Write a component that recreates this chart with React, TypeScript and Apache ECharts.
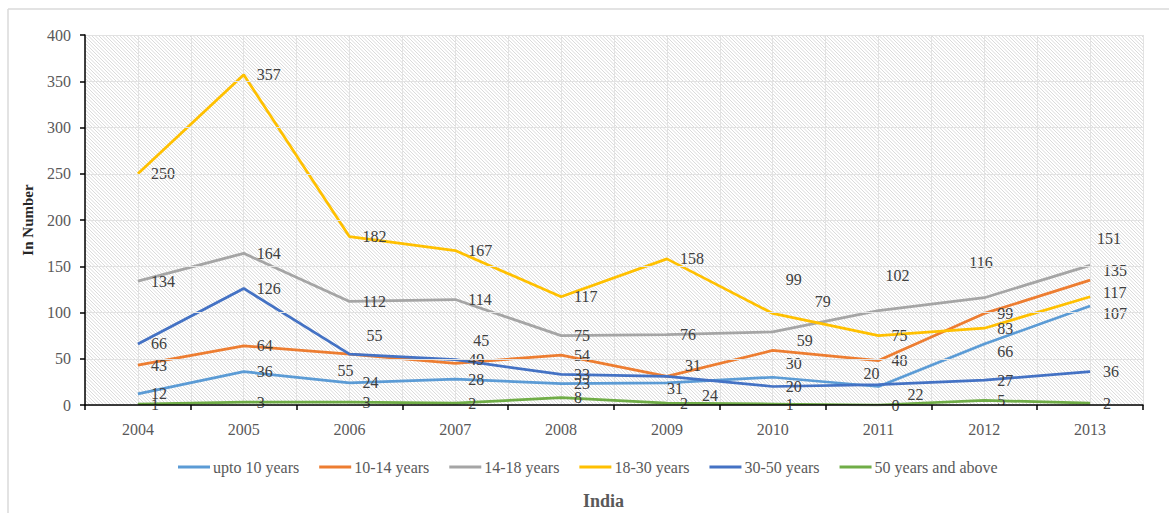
import React, { useEffect, useRef } from "react";
import * as echarts from "echarts";

// Categories and series values
const years = ["2004", "2005", "2006", "2007", "2008", "2009", "2010", "2011", "2012", "2013"];
const upTo10 = [12, 36, 24, 28, 23, 24, 30, 20, 66, 107];
const age10to14 = [43, 64, 55, 45, 54, 31, 59, 48, 99, 135];
const age14to18 = [134, 164, 112, 114, 75, 76, 79, 102, 116, 151];
const age18to30 = [250, 357, 182, 167, 117, 158, 99, 75, 83, 117];
const age30to50 = [66, 126, 55, 49, 33, 31, 20, 22, 27, 36];
const age50plus = [1, 3, 3, 2, 8, 2, 1, 0, 5, 2];

const seriesNames = [
  "upto 10 years",
  "10-14 years",
  "14-18 years",
  "18-30 years",
  "30-50 years",
  "50 years and above",
];
const seriesValues = [upTo10, age10to14, age14to18, age18to30, age30to50, age50plus];
const seriesColors = ["#5B9BD5", "#ED7D31", "#A5A5A5", "#FFC000", "#4472C4", "#70AD47"];

// Value axis: 0..400 in steps of 50
const yMin = 0;
const yMax = 400;
const yStep = 50;

// Hand-placed value labels that were moved off their default spot (series index -> year index -> [dx, dy])
const labelNudges: Record<number, Record<number, [number, number]>> = {
  0: { 5: [22, 13], 6: [0, -14], 7: [-28, -13], 8: [0, 8], 9: [0, 7] },
  1: { 2: [4, -19], 3: [5, -23], 5: [5, -11], 6: [11, -10], 9: [0, -10] },
  2: { 6: [29, -30], 7: [-6, -35], 8: [-28, -35], 9: [-6, -27] },
  3: { 6: [0, -34], 9: [0, -4] },
  4: { 2: [-25, 16], 5: [-13, 12], 7: [16, 10] },
  5: {},
};

const FONT = "'Liberation Serif', 'Times New Roman', serif";

function makeHatch(): string {
  const size = 7;
  const c = document.createElement("canvas");
  c.width = size;
  c.height = size;
  const ctx = c.getContext("2d")!;
  ctx.fillStyle = "#ffffff";
  ctx.fillRect(0, 0, size, size);
  ctx.strokeStyle = "#dadada";
  ctx.lineWidth = 1;
  for (let o = -2 * size; o <= 2 * size; o += size / 2) {
    ctx.beginPath();
    ctx.moveTo(o - size, -size);
    ctx.lineTo(o + 2 * size, 2 * size);
    ctx.stroke();
  }
  return c.toDataURL();
}

export default function App() {
  const ref = useRef<HTMLDivElement>(null);

  useEffect(() => {
    if (!ref.current) return;
    const chart = echarts.init(ref.current, undefined, { renderer: "svg" });

    const series = seriesNames.map((name, si) => ({
      name,
      type: "line",
      xAxisIndex: 0,
      yAxisIndex: 0,
      symbol: "circle",
      symbolSize: 0.01,
      showSymbol: true,
      smooth: false,
      lineStyle: { color: seriesColors[si], width: 2.75 },
      itemStyle: { color: seriesColors[si] },
      label: {
        show: true,
        position: "right",
        distance: 13,
        color: "#404040",
        fontFamily: FONT,
        fontSize: 16,
      },
      labelLayout: (p: { dataIndex: number }) => {
        const n = labelNudges[si][p.dataIndex];
        return n ? { dx: n[0], dy: n[1], hideOverlap: false } : { hideOverlap: false };
      },
      data: seriesValues[si],
      z: 2 + si,
    }));

    chart.setOption({
      animation: false,
      backgroundColor: "#ffffff",
      title: {
        text: "India",
        left: 578,
        top: 487,
        textStyle: { fontFamily: FONT, fontSize: 18, fontWeight: "bold", color: "#595959" },
      },
      legend: {
        data: seriesNames,
        left: 173,
        top: 454,
        icon: "rect",
        itemWidth: 32,
        itemHeight: 3,
        itemGap: 20,
        textStyle: { fontFamily: FONT, fontSize: 16, color: "#595959", padding: [0, 0, 0, -2] },
      },
      grid: {
        left: 85,
        right: 26,
        top: 35,
        bottom: 108,
        show: true,
        borderWidth: 0,
        backgroundColor: { image: makeHatch(), repeat: "repeat", imageWidth: 7, imageHeight: 7 },
      },
      xAxis: [
        {
          type: "category",
          data: years,
          boundaryGap: true,
          axisLine: { show: true, lineStyle: { color: "#000000", width: 1.5 } },
          axisTick: { show: true, length: 5, lineStyle: { color: "#000000", width: 1.5 } },
          axisLabel: { margin: 16, color: "#595959", fontFamily: FONT, fontSize: 16 },
          splitLine: { show: false },
          z: 10,
        },
        {
          type: "value",
          min: 0,
          max: years.length * 2,
          interval: 1,
          position: "bottom",
          axisLine: { show: false },
          axisTick: { show: false },
          axisLabel: { show: false },
          splitLine: { show: true, lineStyle: { color: "#e2e2e2", width: 1 } },
        },
      ],
      yAxis: {
        type: "value",
        min: yMin,
        max: yMax,
        interval: yStep,
        name: "In Number",
        nameLocation: "middle",
        nameRotate: 90,
        nameGap: 50,
        nameTextStyle: { fontFamily: FONT, fontSize: 15, fontWeight: "bold", color: "#262626" },
        axisLine: { show: true, lineStyle: { color: "#000000", width: 1.5 } },
        axisTick: { show: true, length: 5, lineStyle: { color: "#000000", width: 1.5 } },
        axisLabel: { margin: 14, color: "#595959", fontFamily: FONT, fontSize: 16 },
        splitLine: { show: true, lineStyle: { color: "#e2e2e2", width: 1 } },
        z: 10,
      },
      graphic: [
        { type: "line", shape: { x1: 8, y1: 9, x2: 1169, y2: 9 }, style: { stroke: "#dadada", lineWidth: 1.5 }, silent: true },
        { type: "line", shape: { x1: 8, y1: 9, x2: 8, y2: 513 }, style: { stroke: "#dadada", lineWidth: 1.5 }, silent: true },
      ],
      series,
    });

    return () => chart.dispose();
  }, []);

  return (
    <div
      ref={ref}
      style={{ position: "fixed", left: 0, top: 0, width: 1169, height: 513 }}
    />
  );
}
